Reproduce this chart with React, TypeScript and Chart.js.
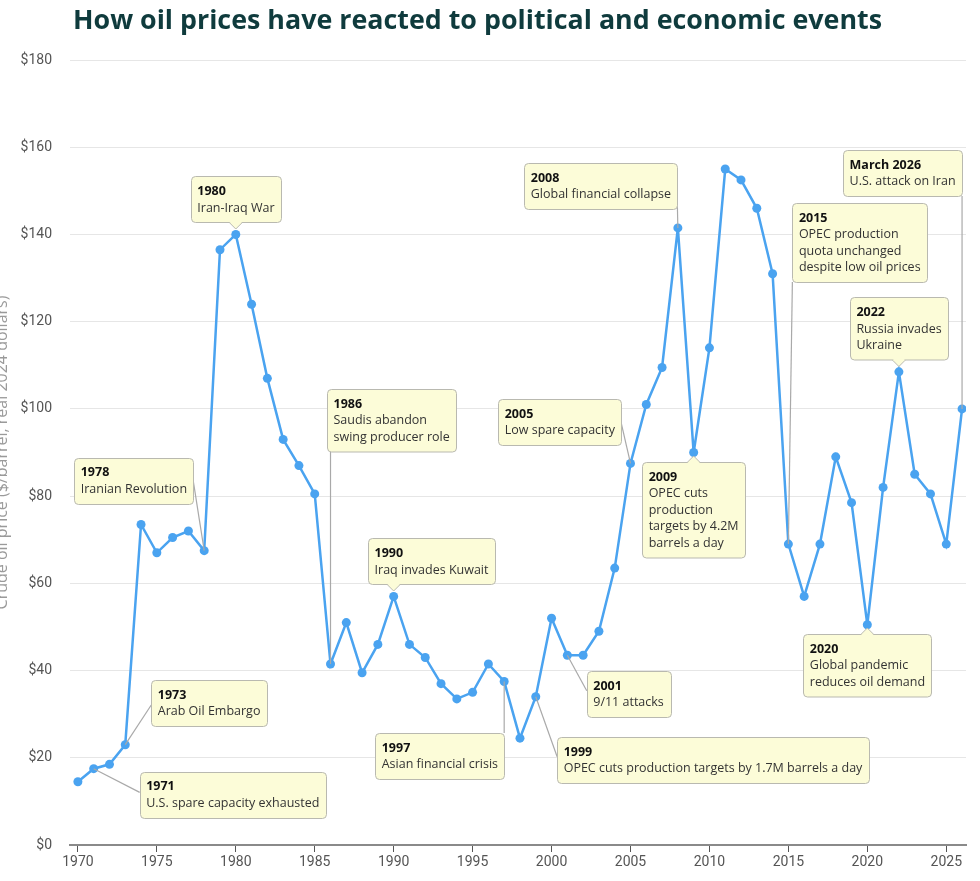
import React, { useEffect, useRef } from 'react';
import { Chart, registerables } from 'chart.js';

Chart.register(...registerables);

// ---------- DATA ----------
const years = [
  1970, 1971, 1972, 1973, 1974, 1975, 1976, 1977, 1978, 1979,
  1980, 1981, 1982, 1983, 1984, 1985, 1986, 1987, 1988, 1989,
  1990, 1991, 1992, 1993, 1994, 1995, 1996, 1997, 1998, 1999,
  2000, 2001, 2002, 2003, 2004, 2005, 2006, 2007, 2008, 2009,
  2010, 2011, 2012, 2013, 2014, 2015, 2016, 2017, 2018, 2019,
  2020, 2021, 2022, 2023, 2024, 2025, 2026,
];
const prices = [
  14.5, 17.5, 18.5, 23, 73.5, 67, 70.5, 72, 67.5, 136.5,
  140, 124, 107, 93, 87, 80.5, 41.5, 51, 39.5, 46,
  57, 46, 43, 37, 33.5, 35, 41.5, 37.5, 24.5, 34,
  52, 43.5, 43.5, 49, 63.5, 87.5, 101, 109.5, 141.5, 90,
  114, 155, 152.5, 146, 131, 69, 57, 69, 89, 78.5,
  50.5, 82, 108.5, 85, 80.5, 69, 100,
];
const xTickYears = [1970, 1975, 1980, 1985, 1990, 1995, 2000, 2005, 2010, 2015, 2020, 2025];
const yMin = 0;
const yMax = 180;
const yStep = 20;

const chartTitle = 'How oil prices have reacted to political and economic events';
const yAxisTitle = 'Crude oil price ($/barrel, real 2024 dollars)';

const eventYears = [1971, 1973, 1978, 1980, 1986, 1990, 1997, 1999, 2001, 2005, 2008, 2009, 2015, 2026, 2022, 2020];
const eventLabels = ['1971', '1973', '1978', '1980', '1986', '1990', '1997', '1999', '2001', '2005', '2008', '2009', '2015', 'March 2026', '2022', '2020'];
const eventTexts = [
  ['U.S. spare capacity exhausted'],
  ['Arab Oil Embargo'],
  ['Iranian Revolution'],
  ['Iran-Iraq War'],
  ['Saudis abandon', 'swing producer role'],
  ['Iraq invades Kuwait'],
  ['Asian financial crisis'],
  ['OPEC cuts production targets by 1.7M barrels a day'],
  ['9/11 attacks'],
  ['Low spare capacity'],
  ['Global financial collapse'],
  ['OPEC cuts', 'production', 'targets by 4.2M', 'barrels a day'],
  ['OPEC production', 'quota unchanged', 'despite low oil prices'],
  ['U.S. attack on Iran'],
  ['Russia invades', 'Ukraine'],
  ['Global pandemic', 'reduces oil demand'],
];

// ---------- CALLOUT LAYOUT (pixel offsets from each event's point) ----------
type Layout = {
  kind: 'line' | 'above' | 'below';
  ref: 'left' | 'right' | 'center';
  dx: number;
  dy?: number;
  gap?: number;
  ax?: number;
  ay?: number;
  vertical?: boolean;
};
const calloutLayout: Layout[] = [
  { kind: 'line', ref: 'left', dx: 46, dy: 3, ax: 0, ay: 0.45 },
  { kind: 'line', ref: 'left', dx: 26, dy: -65, ax: 0, ay: 0.55 },
  { kind: 'line', ref: 'right', dx: -11, dy: -93, ax: 1, ay: 0.5 },
  { kind: 'above', ref: 'center', dx: 0, gap: 12 },
  { kind: 'line', ref: 'left', dx: -3.5, dy: -275, ay: 1, vertical: true },
  { kind: 'above', ref: 'left', dx: -25.6, gap: 12 },
  { kind: 'line', ref: 'right', dx: 0, dy: 51.5, ay: 0, vertical: true },
  { kind: 'line', ref: 'left', dx: 21.4, dy: 40.3, ax: 0, ay: 0.43 },
  { kind: 'line', ref: 'left', dx: 19.4, dy: 15.7, ax: 0, ay: 0.43 },
  { kind: 'line', ref: 'right', dx: -9.3, dy: -64.4, ax: 1, ay: 0.52 },
  { kind: 'line', ref: 'right', dx: -0.6, dy: -65, ax: 1, ay: 0.8 },
  { kind: 'below', ref: 'center', dx: 0, gap: 9.5 },
  { kind: 'line', ref: 'left', dx: 4, dy: -341, ax: 0, ay: 1 },
  { kind: 'line', ref: 'right', dx: 0, dy: -259, ay: 1, vertical: true },
  { kind: 'above', ref: 'center', dx: 0, gap: 12 },
  { kind: 'below', ref: 'center', dx: 0, gap: 9 },
];

const FONT_FAMILY = '"Open Sans", Roboto, "Liberation Sans", sans-serif';
const TICK_FONT = 'Roboto, "Liberation Sans", sans-serif';
const NOTE_SIZE = 12.5;
const LINE_COLOR = '#4aa3f0';
const TITLE_WIDTH = 809;
const YTITLE_WIDTH = 315;

function roundRect(ctx: CanvasRenderingContext2D, x: number, y: number, w: number, h: number, r: number) {
  ctx.beginPath();
  ctx.moveTo(x + r, y);
  ctx.lineTo(x + w - r, y);
  ctx.quadraticCurveTo(x + w, y, x + w, y + r);
  ctx.lineTo(x + w, y + h - r);
  ctx.quadraticCurveTo(x + w, y + h, x + w - r, y + h);
  ctx.lineTo(x + r, y + h);
  ctx.quadraticCurveTo(x, y + h, x, y + h - r);
  ctx.lineTo(x, y + r);
  ctx.quadraticCurveTo(x, y, x + r, y);
  ctx.closePath();
}

const decorPlugin = {
  id: 'decor',
  beforeDraw(chart: any) {
    const ctx: CanvasRenderingContext2D = chart.ctx;
    const area = chart.chartArea;
    ctx.save();
    // title, sized to span the same width as in the reference
    ctx.font = `bold 26px ${FONT_FAMILY}`;
    const tw = ctx.measureText(chartTitle).width;
    const tSize = Math.min(28, (26 * TITLE_WIDTH) / tw);
    ctx.font = `bold ${tSize.toFixed(2)}px ${FONT_FAMILY}`;
    ctx.fillStyle = '#0f3b3d';
    ctx.textBaseline = 'alphabetic';
    ctx.textAlign = 'left';
    ctx.fillText(chartTitle, 73, 29);
    // y axis title (rotated, partly off-canvas like the reference)
    ctx.font = `14px ${FONT_FAMILY}`;
    const yw = ctx.measureText(yAxisTitle).width;
    const ySize = Math.min(16, (14 * YTITLE_WIDTH) / yw);
    ctx.translate(2, (area.top + area.bottom) / 2);
    ctx.rotate(-Math.PI / 2);
    ctx.font = `${ySize.toFixed(2)}px ${FONT_FAMILY}`;
    ctx.fillStyle = '#9a9a9a';
    ctx.textAlign = 'center';
    ctx.textBaseline = 'middle';
    ctx.fillText(yAxisTitle, 0, 0);
    ctx.restore();
  },
  afterDatasetsDraw(chart: any) {
    const ctx: CanvasRenderingContext2D = chart.ctx;
    const xs = chart.scales.x;
    const ys = chart.scales.y;
    const padX = 6.5;
    const padY = 6.5;
    const lineH = 16.5;
    const fill = '#fcfcd8';
    const border = '#b9b9b0';
    const boxes: any[] = [];

    eventYears.forEach((yr, i) => {
      const idx = years.indexOf(yr);
      const px = xs.getPixelForValue(yr);
      const py = ys.getPixelForValue(prices[idx]);
      const lay = calloutLayout[i];
      const lines = [eventLabels[i], ...eventTexts[i]];
      let w = 0;
      lines.forEach((t, k) => {
        ctx.font = k === 0 ? `bold ${NOTE_SIZE}px ${FONT_FAMILY}` : `${NOTE_SIZE}px ${FONT_FAMILY}`;
        w = Math.max(w, ctx.measureText(t).width);
      });
      w = Math.round(w + padX * 2);
      const h = lines.length * lineH + padY * 2;
      let left = px + lay.dx;
      if (lay.ref === 'right') left = px + lay.dx - w;
      if (lay.ref === 'center') left = px + lay.dx - w / 2;
      let top: number;
      if (lay.kind === 'above') top = py - (lay.gap as number) - h;
      else if (lay.kind === 'below') top = py + (lay.gap as number);
      else top = py + (lay.dy as number);
      boxes.push({ px, py, left, top, w, h, lines, lay });
    });

    ctx.save();
    // connectors
    ctx.strokeStyle = '#a9a9a9';
    ctx.lineWidth = 1.2;
    boxes.forEach((b) => {
      if (b.lay.kind !== 'line') return;
      const tx = b.lay.vertical ? b.px : b.left + (b.lay.ax as number) * b.w;
      const ty = b.top + (b.lay.ay as number) * b.h;
      ctx.beginPath();
      ctx.moveTo(b.px, b.py);
      ctx.lineTo(tx, ty);
      ctx.stroke();
    });

    // boxes
    boxes.forEach((b) => {
      const x = Math.round(b.left) + 0.5;
      const y = Math.round(b.top) + 0.5;
      roundRect(ctx, x, y, b.w, b.h, 4);
      ctx.fillStyle = fill;
      ctx.fill();
      ctx.strokeStyle = border;
      ctx.lineWidth = 1;
      ctx.stroke();
      if (b.lay.kind === 'above' || b.lay.kind === 'below') {
        const baseY = b.lay.kind === 'above' ? y + b.h : y;
        const tipY = b.lay.kind === 'above' ? baseY + 6.5 : baseY - 6.5;
        const cx = b.px;
        ctx.beginPath();
        ctx.moveTo(cx - 6.5, baseY);
        ctx.lineTo(cx, tipY);
        ctx.lineTo(cx + 6.5, baseY);
        ctx.closePath();
        ctx.fillStyle = fill;
        ctx.fill();
        ctx.beginPath();
        ctx.moveTo(cx - 6.5, baseY);
        ctx.lineTo(cx, tipY);
        ctx.lineTo(cx + 6.5, baseY);
        ctx.stroke();
        ctx.fillStyle = fill;
        ctx.fillRect(cx - 5.5, b.lay.kind === 'above' ? baseY - 1.5 : baseY - 0.5, 11, 2);
      }
      ctx.textAlign = 'left';
      ctx.textBaseline = 'middle';
      b.lines.forEach((t: string, k: number) => {
        ctx.font = k === 0 ? `bold ${NOTE_SIZE}px ${FONT_FAMILY}` : `${NOTE_SIZE}px ${FONT_FAMILY}`;
        ctx.fillStyle = k === 0 ? '#111111' : '#333333';
        ctx.fillText(t, b.left + padX, b.top + padY + lineH * (k + 0.5) + 0.5);
      });
    });
    ctx.restore();
  },
};

export default function App() {
  const canvasRef = useRef<HTMLCanvasElement | null>(null);

  useEffect(() => {
    if (!canvasRef.current) return;
    const chart = new Chart(canvasRef.current, {
      type: 'line',
      data: {
        datasets: [
          {
            label: 'Crude oil price',
            data: years.map((yr, i) => ({ x: yr, y: prices[i] })),
            borderColor: LINE_COLOR,
            backgroundColor: LINE_COLOR,
            borderWidth: 2.5,
            pointRadius: 4.5,
            pointBackgroundColor: LINE_COLOR,
            pointBorderColor: LINE_COLOR,
            pointBorderWidth: 0,
            tension: 0,
          },
        ],
      },
      options: {
        animation: false,
        responsive: true,
        maintainAspectRatio: false,
        layout: { padding: { left: 0, right: 14, top: 60, bottom: 0 } },
        plugins: {
          legend: { display: false },
          title: { display: false },
          tooltip: { enabled: false },
        },
        scales: {
          x: {
            type: 'linear',
            min: 1969.5,
            max: 2026.25,
            afterBuildTicks: (scale: any) => {
              scale.ticks = xTickYears.map((v) => ({ value: v }));
            },
            afterFit: (scale: any) => {
              scale.height = 36;
            },
            grid: {
              display: true,
              drawOnChartArea: false,
              drawTicks: true,
              tickLength: 7,
              tickColor: '#555555',
              tickWidth: 1,
            },
            border: { display: true, color: '#8a8a8a', width: 2 },
            ticks: {
              color: '#555555',
              font: { family: TICK_FONT, size: 14 },
              padding: 2,
              maxRotation: 0,
              autoSkip: false,
              callback: (v: any) => String(v),
            },
          },
          y: {
            min: yMin,
            max: yMax,
            afterFit: (scale: any) => {
              scale.width = 70;
            },
            grid: { color: '#e6e6e6', drawTicks: false, lineWidth: 1 },
            border: { display: false },
            ticks: {
              stepSize: yStep,
              color: '#555555',
              font: { family: TICK_FONT, size: 14 },
              padding: 18,
              callback: (v: any) => '$' + v,
            },
          },
        },
      },
      plugins: [decorPlugin],
    });
    return () => chart.destroy();
  }, []);

  return (
    <div style={{ position: 'fixed', left: 0, top: 0, width: 980, height: 881, background: '#ffffff' }}>
      <canvas ref={canvasRef} />
    </div>
  );
}
